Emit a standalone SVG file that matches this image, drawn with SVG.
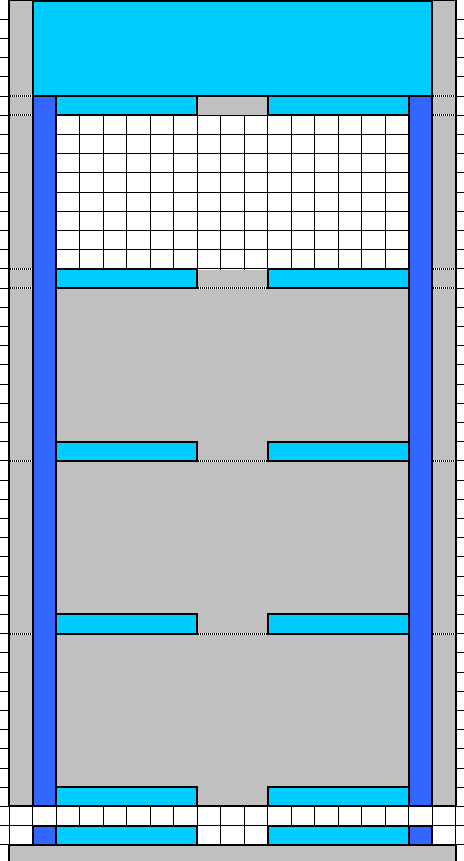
<svg xmlns="http://www.w3.org/2000/svg" width="464" height="861" viewBox="0 0 464 861" shape-rendering="crispEdges">
<style>
.thin{stroke:#000;stroke-width:1;fill:none}
.grey{fill:#c0c0c0}
.cyan{fill:#00ccff;stroke:#000;stroke-width:2}
.blue{fill:#3366ff;stroke:#000;stroke-width:2}
.edge{fill:none;stroke:#000;stroke-width:2}
.dotb{stroke:#fff;stroke-width:2}
.dot{stroke:#000;stroke-width:2;stroke-dasharray:1 1}
</style>
<rect x="0" y="0" width="464" height="861" fill="#fff"/>
<g id="grid">
<path class="thin" d="M0 19.2H464M0 38.4H464M0 57.6H464M0 76.8H464M0 96H464M0 115.2H464M0 134.4H464M0 153.6H464M0 172.8H464M0 192H464M0 211.2H464M0 230.4H464M0 249.6H464M0 268.8H464M0 288H464M0 307.2H464M0 326.4H464M0 345.6H464M0 364.8H464M0 384H464M0 403.2H464M0 422.4H464M0 441.6H464M0 460.8H464M0 480H464M0 499.2H464M0 518.4H464M0 537.6H464M0 556.8H464M0 576H464M0 595.2H464M0 614.4H464M0 633.6H464M0 652.8H464M0 672H464M0 691.2H464M0 710.4H464M0 729.6H464M0 748.8H464M0 768H464M0 787.2H464M0 806.4H464M0 825.6H464M0 844.8H464M9 0V861M32.5 0V861M56 0V861M79.5 0V861M103 0V861M126.5 0V861M150 0V861M173.5 0V861M197 0V861M220.5 0V861M244 0V861M267.5 0V861M291 0V861M314.5 0V861M338 0V861M361.5 0V861M385 0V861M408.5 0V861M432 0V861M455.5 0V861"/>
</g>
<g id="grey-areas">
<rect class="grey" x="9" y="0" width="23.5" height="806.4"/>
<rect class="grey" x="432" y="0" width="23.5" height="806.4"/>
<rect class="grey" x="197" y="96" width="70.5" height="19.2"/>
<rect class="grey" x="197" y="269.5" width="70.5" height="19"/>
<rect class="grey" x="56" y="288" width="352.5" height="518.4"/>
<rect class="grey" x="9" y="844.8" width="446.5" height="17"/>
</g>
<g id="outlines">
<rect class="edge" x="9" y="0" width="23.5" height="806.4"/>
<rect class="edge" x="432" y="0" width="23.5" height="806.4"/>
<rect class="edge" x="56" y="288" width="352.5" height="518.4"/>
<rect class="edge" x="9" y="844.8" width="446.5" height="20"/>
</g>
<g id="dotted">
<path class="dotb" d="M10 96H32M10 115.2H32M10 268.8H32M10 288H32M10 460.8H32M10 633.6H32M433 96H455M433 115.2H455M433 268.8H455M433 288H455M433 460.8H455M433 633.6H455M198 288H267M198 460.8H267M198 633.6H267"/>
<path class="dot" d="M10 96H32M10 115.2H32M10 268.8H32M10 288H32M10 460.8H32M10 633.6H32M433 96H455M433 115.2H455M433 268.8H455M433 288H455M433 460.8H455M433 633.6H455M198 288H267M198 460.8H267M198 633.6H267"/>
</g>
<g id="header">
<rect class="cyan" x="32.5" y="1" width="399.5" height="95"/>
</g>
<g id="posts">
<rect class="blue" x="32.5" y="96" width="23.5" height="710.4"/>
<rect class="blue" x="408.5" y="96" width="23.5" height="710.4"/>
<rect class="blue" x="32.5" y="825.6" width="23.5" height="19.2"/>
<rect class="blue" x="408.5" y="825.6" width="23.5" height="19.2"/>
</g>
<g id="shelves">
<rect class="cyan" x="56" y="96" width="141" height="19.2"/>
<rect class="cyan" x="267.5" y="96" width="141" height="19.2"/>
<rect class="cyan" x="56" y="268.8" width="141" height="19.2"/>
<rect class="cyan" x="267.5" y="268.8" width="141" height="19.2"/>
<rect class="cyan" x="56" y="441.6" width="141" height="19.2"/>
<rect class="cyan" x="267.5" y="441.6" width="141" height="19.2"/>
<rect class="cyan" x="56" y="614.4" width="141" height="19.2"/>
<rect class="cyan" x="267.5" y="614.4" width="141" height="19.2"/>
<rect class="cyan" x="56" y="787.2" width="141" height="19.2"/>
<rect class="cyan" x="267.5" y="787.2" width="141" height="19.2"/>
<rect class="cyan" x="56" y="825.6" width="141" height="19.2"/>
<rect class="cyan" x="267.5" y="825.6" width="141" height="19.2"/>
</g>
</svg>
